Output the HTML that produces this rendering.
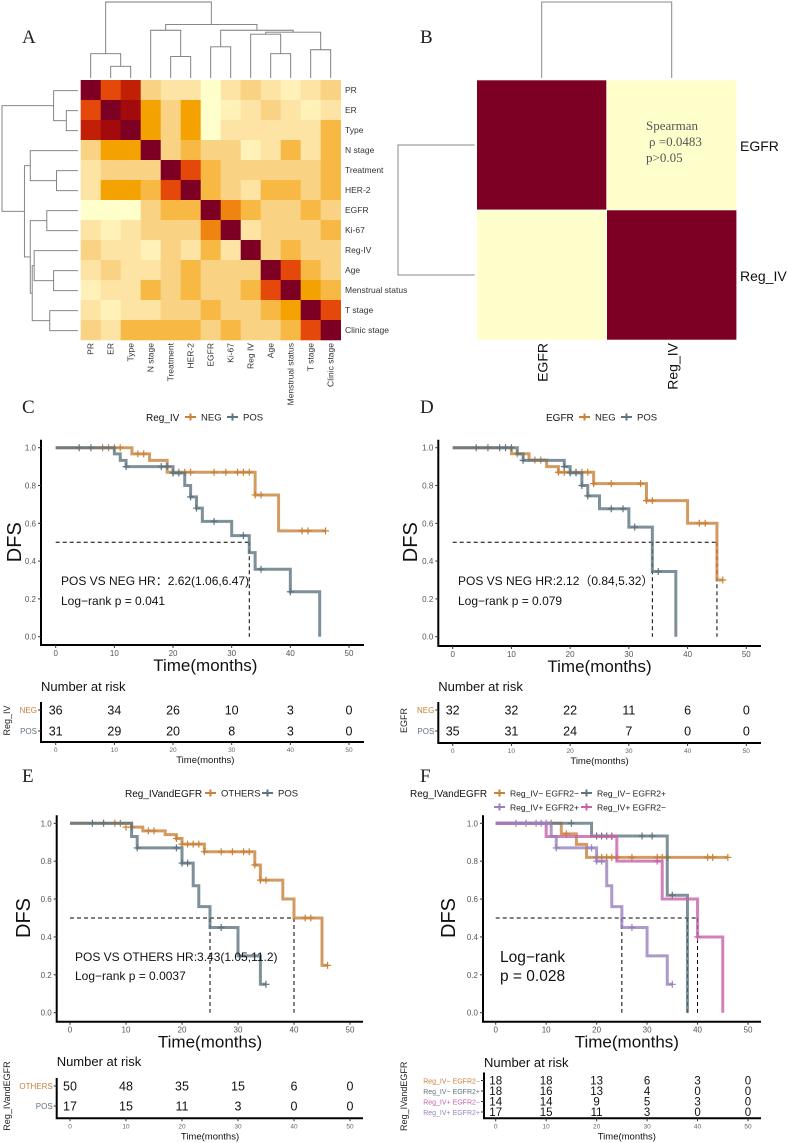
<!DOCTYPE html>
<html><head><meta charset="utf-8"><style>
body{margin:0;background:#fff}
svg{display:block;font-family:"Liberation Sans",sans-serif}
.ser{font-family:"Liberation Serif",serif}
</style></head><body>
<svg id="fig" width="788" height="1143" viewBox="0 0 788 1143" xmlns="http://www.w3.org/2000/svg"></svg>
<script>
// ---------- Panel A data ----------
const varNames = ["PR","ER","Type","N stage","Treatment","HER-2","EGFR","Ki-67","Reg-IV","Age","Menstrual status","T stage","Clinic stage"];
const colNames = ["PR","ER","Type","N stage","Treatment","HER-2","EGFR","Ki-67","Reg IV","Age","Menstrual status","T stage","Clinic stage"];
const corrLevels = [
[10,7,8,3,2,2,0,2,3,2,1,2,3],
[7,10,9,5,3,5,0,1,2,3,2,1,2],
[8,9,10,5,3,5,0,2,2,2,2,2,4],
[3,5,5,10,3,4,3,3,1,2,4,2,4],
[2,3,3,3,10,7,4,3,3,3,3,3,4],
[2,5,5,4,7,10,4,3,2,4,4,3,4],
[0,0,0,3,4,4,10,6,4,3,3,4,3],
[2,1,2,3,3,3,6,10,2,3,3,3,4],
[3,2,2,1,3,2,4,2,10,3,4,3,3],
[2,3,2,2,3,4,3,3,3,10,7,4,3],
[1,2,2,4,3,4,3,3,4,7,10,5,4],
[2,1,2,2,3,3,4,3,3,4,5,10,7],
[3,2,4,4,4,4,3,4,3,3,4,7,10]];
const merges = [[1,2,12],[0,13,25],[4,5,22],[3,15,49],[6,7,32],[9,10,25],[8,18,45],[11,12,29],[19,20,47],[17,21,49],[16,22,55],[14,23,78]];
// ---------- Panel B ----------
const bNames = ["EGFR","Reg_IV"];
const bLevels = [[10,0],[0,10]];
// ---------- KM data ----------
const cNegSteps = [[13,0.967],[16,0.933],[19,0.87],[34,0.75],[38,0.56]];
const cNegEnd = 46;
const cNegCens = [[8,1],[9,1],[10,1],[11,1],[14,0.967],[15,0.967],[20,0.87],[21,0.87],[22,0.87],[23,0.87],[27,0.87],[29,0.87],[31,0.87],[32,0.87],[33,0.87],[34,0.75],[35,0.75],[42,0.56],[43,0.56],[46,0.56]];
const cPosSteps = [[10,0.967],[11,0.933],[12,0.90],[20,0.866],[22,0.80],[23,0.74],[24,0.68],[25,0.61],[30,0.535],[33,0.445],[34,0.357],[40,0.238],[45,0]];
const cPosEnd = 45;
const cPosCens = [[4,1],[6,1],[12,0.9],[18,0.9],[19,0.9],[20,0.866],[21,0.866],[23,0.74],[24,0.68],[27,0.61],[32,0.535],[35,0.357],[40,0.238]];
const cRiskNeg = [36,34,26,10,3,0];
const cRiskPos = [31,29,20,8,3,0];

const dNegSteps = [[10,0.968],[13,0.935],[16,0.90],[18,0.87],[24,0.81],[33,0.72],[40,0.60],[45,0.30]];
const dNegEnd = 46;
const dNegCens = [[11,0.968],[14,0.935],[15,0.935],[18,0.87],[19,0.87],[20,0.87],[21,0.87],[22,0.87],[23,0.87],[24,0.81],[27,0.81],[32,0.81],[33,0.72],[34,0.72],[42,0.60],[43,0.60],[46,0.30]];
const dPosSteps = [[11,0.967],[12,0.933],[19,0.90],[20,0.867],[22,0.80],[23,0.745],[25,0.677],[30,0.58],[34,0.345],[38,0]];
const dPosEnd = 38;
const dPosCens = [[4,1],[6,1],[8,1],[9,1],[10,1],[12,0.933],[19,0.90],[20,0.867],[21,0.867],[22,0.80],[23,0.745],[27,0.677],[29,0.677],[31,0.58],[35,0.345]];
const dRiskNeg = [32,32,22,11,6,0];
const dRiskPos = [35,31,24,7,0,0];

const eOthSteps = [[11,0.98],[13,0.96],[17,0.94],[19,0.92],[20,0.89],[24,0.85],[33,0.78],[34,0.70],[38,0.60],[40,0.50],[45,0.25]];
const eOthEnd = 46;
const eOthCens = [[8,1],[9,1],[10,0.98],[11,0.98],[14,0.96],[15,0.96],[19,0.92],[20,0.89],[21,0.89],[22,0.89],[23,0.89],[24,0.85],[27,0.85],[29,0.85],[31,0.85],[32,0.85],[33,0.78],[34,0.70],[35,0.70],[42,0.50],[43,0.50],[46,0.25]];
const ePosSteps = [[11,0.93],[12,0.87],[20,0.79],[22,0.67],[23,0.56],[25,0.45],[30,0.30],[34,0.15]];
const ePosEnd = 35;
const ePosCens = [[4,1],[6,1],[12,0.87],[19,0.87],[20,0.79],[21,0.79],[27,0.45],[35,0.15]];
const eRiskOth = [50,48,35,15,6,0];
const eRiskPos = [17,15,11,3,0,0];

const fASteps = [[13,0.944],[16,0.889],[18,0.82]];
const fAEnd = 46;
const fACens = [[11,1],[14,0.944],[20,0.82],[21,0.82],[22,0.82],[23,0.82],[24,0.82],[27,0.82],[32,0.82],[33,0.82],[34,0.82],[42,0.82],[43,0.82],[46,0.82]];
const fBSteps = [[19,0.933],[34,0.62],[38,0]];
const fBEnd = 38;
const fBCens = [[15,1],[20,0.933],[21,0.933],[22,0.933],[23,0.933],[29,0.933],[31,0.933],[35,0.62]];
const fCSteps = [[10,0.93],[24,0.80],[33,0.60],[40,0.40],[45,0]];
const fCEnd = 45;
const fCCens = [[23,0.93],[32,0.80],[40,0.40]];
const fDSteps = [[11,0.93],[12,0.87],[20,0.80],[22,0.67],[23,0.56],[25,0.45],[30,0.30],[34,0.15]];
const fDEnd = 35;
const fDCens = [[4,1],[6,1],[8,1],[9,1],[10,1],[12,0.87],[19,0.87],[20,0.80],[21,0.80],[27,0.45],[35,0.15]];
const fRiskA = [18,18,13,6,3,0];
const fRiskB = [18,16,13,4,0,0];
const fRiskC = [14,14,9,5,3,0];
const fRiskD = [17,15,11,3,0,0];

const xTicks = [0,10,20,30,40,50];
const yTicks = [0,0.2,0.4,0.6,0.8,1.0];
const yTickLabels = ["0.0","0.2","0.4","0.6","0.8","1.0"];

const NS="http://www.w3.org/2000/svg";
const svg=document.getElementById('fig');
function el(tag,attrs,parent,text){const e=document.createElementNS(NS,tag);for(const k in attrs)e.setAttribute(k,attrs[k]);if(text!==undefined)e.textContent=text;(parent||svg).appendChild(e);return e;}
const palette=["#ffffcc","#fff1b8","#fde3a4","#f9d283","#f7b943","#f4a202","#f08410","#e4480a","#c22006","#a20a0c","#7d0024"];

// ---------- Panel A ----------
const gA=el('g',{});


el('text',{x:22,y:43,'font-size':19,'class':'ser',fill:'#222'},gA,'A');
const hx0=80.7,hy0=80,cs=20;
corrLevels.forEach((row,i)=>row.forEach((v,j)=>{
  const r=el('rect',{x:hx0+j*cs,y:hy0+i*cs,width:cs+0.3,height:cs+0.3,fill:palette[v]},gA);
  
  
}));
varNames.forEach((n,i)=>{
  const t=el('text',{x:345,y:hy0+i*cs+cs/2+3,'font-size':8.5,fill:'#333'},gA,n);
  
  
});
colNames.forEach((n,j)=>{
  const cx=hx0+j*cs+cs/2+3;
  const t=el('text',{x:cx,y:343,'font-size':8.5,fill:'#333','text-anchor':'end',transform:`rotate(-90 ${cx} 343)`},gA,n);
  
  
});
function dendro(horizontal){
  const pos={},ht={};
  for(let i=0;i<13;i++){pos[i]=hx0+i*cs+cs/2;ht[i]=0;}
  const base=78; const scale=76/78;
  merges.forEach((m,k)=>{
    const id=13+k,a=m[0],b=m[1],h=m[2];
    const ya=base-ht[a]*scale,yb=base-ht[b]*scale,yh=base-h*scale;
    const pa=pos[a],pb=pos[b];
    let d;
    if(!horizontal) d=`M${pa},${ya}V${yh}H${pb}V${yb}`;
    else d=`M${ya},${pa}H${yh}V${pb}H${yb}`;
    const p=el('path',{d:d,fill:'none',stroke:'#777','stroke-width':0.9},gA);
    
    
    pos[id]=(pa+pb)/2;ht[id]=h;
  });
}
dendro(false);
dendro(true);

// ---------- Panel B ----------
const gB=el('g',{});


el('text',{x:420,y:43,'font-size':19,'class':'ser',fill:'#222'},gB,'B');
const bx0=476.7,by0=80,bcs=130;
bLevels.forEach((row,i)=>row.forEach((v,j)=>{
  const r=el('rect',{x:bx0+j*bcs,y:by0+i*bcs,width:bcs,height:bcs,fill:palette[v],stroke:'#fff','stroke-width':0.6},gB);
  
  
}));
el('path',{d:`M${bx0+65},78V2H${bx0+195}V78`,fill:'none',stroke:'#888','stroke-width':1},gB);
el('path',{d:`M${bx0-2},${by0+65}H398V${by0+195}H${bx0-2}`,fill:'none',stroke:'#888','stroke-width':1},gB);
bNames.forEach((n,i)=>{
  const t=el('text',{x:740,y:by0+i*bcs+bcs/2+6,'font-size':14,fill:'#111'},gB,n);
  
  
  const cx=bx0+i*bcs+bcs/2+6;
  const t2=el('text',{x:cx,y:343,'font-size':14,fill:'#111','text-anchor':'end',transform:`rotate(-90 ${cx} 343)`},gB,n);
  
  
});
const st=el('text',{'font-size':13,'class':'ser',fill:'#555'},gB);

el('tspan',{x:646,y:130},st,'Spearman');
el('tspan',{x:649,y:146},st,'ρ =0.0483');
el('tspan',{x:646,y:162},st,'p>0.05');

// ---------- KM ----------
const ORANGE="#c8823a",SLATE="#5e7480",PURPLE="#9a80be",PINK="#c862aa";
function km(cfg){
  const g=el('g',{});
  
  
  const X=t=>cfg.x0+t/50*(cfg.x50-cfg.x0);
  const Y=s=>cfg.y0+s*(cfg.y1-cfg.y0);
  el('text',{x:cfg.lx,y:cfg.ly,'font-size':19,'class':'ser',fill:'#222'},g,cfg.label);
  el('path',{d:`M${cfg.ax},${Y(1)-8}V${cfg.axY}H${cfg.axEnd}`,fill:'none',stroke:'#000','stroke-width':2},g);
  yTicks.forEach((v,i)=>{
    el('line',{x1:cfg.ax-3,x2:cfg.ax,y1:Y(v),y2:Y(v),stroke:'#333','stroke-width':1},g);
    const t=el('text',{x:cfg.ax-5,y:Y(v)+3,'font-size':8,fill:'#555','text-anchor':'end'},g,yTickLabels[i]);
    
    
  });
  xTicks.forEach(v=>{
    el('line',{x1:X(v),x2:X(v),y1:cfg.axY,y2:cfg.axY+3,stroke:'#333','stroke-width':1},g);
    const t=el('text',{x:X(v),y:cfg.axY+11,'font-size':8,fill:'#555','text-anchor':'middle'},g,String(v));
    
    
  });
  const xt=el('text',{x:(X(0)+X(50))/2+cfg.xtOff,y:cfg.axY+26,'font-size':17,fill:'#111','text-anchor':'middle'},g,'Time(months)');
  
  
  const yc=(Y(0)+Y(1))/2;
  const yt=el('text',{x:cfg.dfsX,y:yc,'font-size':20,fill:'#111','text-anchor':'middle',transform:`rotate(-90 ${cfg.dfsX} ${yc})`},g,'DFS');
  
  
  let md=`M${X(0)},${Y(0.5)}H${X(cfg.medH)}`;
  cfg.medV.forEach(m=>{md+=`M${X(m)},${Y(0.5)}V${Y(0)}`;});
  el('path',{d:md,fill:'none',stroke:'#000','stroke-width':1,'stroke-dasharray':'4,3'},g);
  cfg.series.forEach(s=>{
    let d=`M${X(0)},${Y(1)}`;
    s.steps.forEach(p=>{d+=`H${X(p[0])}V${Y(p[1])}`;});
    d+=`H${X(s.end)}`;
    const p=el('path',{d:d,fill:'none',stroke:s.color,'stroke-width':3,'stroke-opacity':0.8},g);
    
    
    s.cens.forEach(c=>{
      const cm=el('path',{d:`M${X(c[0])-3.5},${Y(c[1])}h7M${X(c[0])},${Y(c[1])-3.5}v7`,stroke:s.color,'stroke-width':1.2},g);
      
      
    });
  });
  cfg.notes.forEach(n=>{
    const t=el('text',{x:n[0],y:n[1],'font-size':n[3],fill:'#111'},g,n[2]);
    
    
  });
  const lg=el('g',{},g);
  
  
  el('text',{x:cfg.legTitle[0],y:cfg.legTitle[1]+4,'font-size':10,fill:'#111'},lg,cfg.legTitle[2]);
  cfg.series.forEach((s,i)=>{
    const L=cfg.legItems[i];
    const e=el('g',{},lg);
    
    
    el('path',{d:`M${L[0]},${L[1]}h11M${L[0]+5.5},${L[1]-3.5}v7`,stroke:s.color,'stroke-width':2},e);
    el('text',{x:L[0]+16,y:L[1]+3.5,'font-size':cfg.legSize||9.5,fill:'#222'},e,s.legend);
  });
  const rt=el('g',{},g);
  
  
  const R=cfg.risk;
  el('text',{x:R.ax,y:R.titleY+4,'font-size':13,fill:'#111'},rt,'Number at risk');
  el('path',{d:`M${R.ax},${R.rows[0]-8}V${R.lineY}H${cfg.axEnd}`,fill:'none',stroke:'#000','stroke-width':2},rt);
  cfg.series.forEach((s,i)=>{
    const y=R.rows[i];
    el('line',{x1:R.ax-3,x2:R.ax,y1:y,y2:y,stroke:'#333'},rt);
    el('text',{x:R.ax-4,y:y+3,'font-size':R.lblSize,fill:s.color,'text-anchor':'end'},rt,s.riskLabel);
    s.risk.forEach((v,k)=>{
      const t=el('text',{x:X(xTicks[k]),y:y+R.numSize*0.36,'font-size':R.numSize,fill:'#111','text-anchor':'middle'},rt,String(v));
      
      
    });
  });
  xTicks.forEach(v=>{
    el('line',{x1:X(v),x2:X(v),y1:R.lineY,y2:R.lineY+3,stroke:'#333'},rt);
    el('text',{x:X(v),y:R.lineY+10,'font-size':6.5,fill:'#666','text-anchor':'middle'},rt,String(v));
  });
  el('text',{x:(X(0)+X(50))/2+cfg.xtOff,y:R.lineY+21,'font-size':9.5,fill:'#111','text-anchor':'middle'},rt,'Time(months)');
  const my=(R.rows[0]+R.rows[R.rows.length-1])/2;
  el('text',{x:R.ytX,y:my,'font-size':R.ytSize,fill:'#222','text-anchor':'middle',transform:`rotate(-90 ${R.ytX} ${my})`},rt,cfg.riskTitle);
}
km({name:'km-panel-c',label:'C',lx:22,ly:413,x0:55.7,x50:349,y0:636.7,y1:447.7,ax:41,axY:645,axEnd:364,xtOff:3,dfsX:21,
  medH:33,medV:[33],
  series:[{name:'neg',color:ORANGE,steps:cNegSteps,end:cNegEnd,cens:cNegCens,legend:'NEG',riskLabel:'NEG',risk:cRiskNeg},
          {name:'pos',color:SLATE,steps:cPosSteps,end:cPosEnd,cens:cPosCens,legend:'POS',riskLabel:'POS',risk:cRiskPos}],
  notes:[[61,585,'POS VS NEG HR：2.62(1.06,6.47)',12],[61,605,'Log−rank p = 0.041',12]],
  legTitle:[146,417,'Reg_IV'],legItems:[[185,417],[227,417]],
  risk:{ax:41,titleY:687,rows:[710,731],lineY:742,lblSize:8,numSize:12.5,ytX:10,ytSize:9},riskTitle:'Reg_IV'});
km({name:'km-panel-d',label:'D',lx:420,ly:413,x0:452.7,x50:746.3,y0:636.7,y1:447.7,ax:438.3,axY:646,axEnd:761,xtOff:0,dfsX:417,
  medH:45,medV:[34,45],
  series:[{name:'neg',color:ORANGE,steps:dNegSteps,end:dNegEnd,cens:dNegCens,legend:'NEG',riskLabel:'NEG',risk:dRiskNeg},
          {name:'pos',color:SLATE,steps:dPosSteps,end:dPosEnd,cens:dPosCens,legend:'POS',riskLabel:'POS',risk:dRiskPos}],
  notes:[[458,585,'POS VS NEG HR:2.12（0.84,5.32）',12],[458,605,'Log−rank p = 0.079',12]],
  legTitle:[546,417,'EGFR'],legItems:[[579,417],[621,417]],
  risk:{ax:438.3,titleY:687,rows:[710,731],lineY:743,lblSize:8,numSize:12.5,ytX:407,ytSize:9},riskTitle:'EGFR'});
km({name:'km-panel-e',label:'E',lx:22,ly:782,x0:70,x50:350,y0:1012.7,y1:823.3,ax:56.7,axY:1021.7,axEnd:363,xtOff:0,dfsX:30,
  medH:40,medV:[25,40],
  series:[{name:'others',color:ORANGE,steps:eOthSteps,end:eOthEnd,cens:eOthCens,legend:'OTHERS',riskLabel:'OTHERS',risk:eRiskOth},
          {name:'pos',color:SLATE,steps:ePosSteps,end:ePosEnd,cens:ePosCens,legend:'POS',riskLabel:'POS',risk:eRiskPos}],
  notes:[[75,961,'POS VS OTHERS HR:3.43(1.05,11.2)',12],[75,980,'Log−rank p = 0.0037',12]],
  legTitle:[125,793,'Reg_IVandEGFR'],legItems:[[205,793],[262,793]],
  risk:{ax:56.7,titleY:1062,rows:[1086,1106],lineY:1118.3,lblSize:8,numSize:12.5,ytX:10,ytSize:9},riskTitle:'Reg_IVandEGFR'});
km({name:'km-panel-f',label:'F',lx:420,ly:782,x0:495.7,x50:748,y0:1012.7,y1:823.3,ax:483,axY:1021.7,axEnd:761,xtOff:5,dfsX:455,
  medH:40,medV:[25,38,40],legSize:8.5,
  series:[{name:'regiv-neg-egfr-neg',color:ORANGE,steps:fASteps,end:fAEnd,cens:fACens,legend:'Reg_IV− EGFR2−',riskLabel:'Reg_IV− EGFR2−',risk:fRiskA},
          {name:'regiv-neg-egfr-pos',color:SLATE,steps:fBSteps,end:fBEnd,cens:fBCens,legend:'Reg_IV− EGFR2+',riskLabel:'Reg_IV− EGFR2+',risk:fRiskB},
          {name:'regiv-pos-egfr-neg',color:PINK,steps:fCSteps,end:fCEnd,cens:fCCens,legend:'Reg_IV+ EGFR2−',riskLabel:'Reg_IV+ EGFR2−',risk:fRiskC},
          {name:'regiv-pos-egfr-pos',color:PURPLE,steps:fDSteps,end:fDEnd,cens:fDCens,legend:'Reg_IV+ EGFR2+',riskLabel:'Reg_IV+ EGFR2+',risk:fRiskD}],
  notes:[[500,962,'Log−rank',15.5],[500,981,'p = 0.028',15.5]],
  legTitle:[410,793,'Reg_IVandEGFR'],legItems:[[494,793],[581,793],[581,807],[494,807]],
  risk:{ax:484,titleY:1063,rows:[1080.5,1091,1101.5,1112],lineY:1118.3,lblSize:7,numSize:11.5,ytX:407,ytSize:9},riskTitle:'Reg_IVandEGFR'});
</script>
</body></html>
